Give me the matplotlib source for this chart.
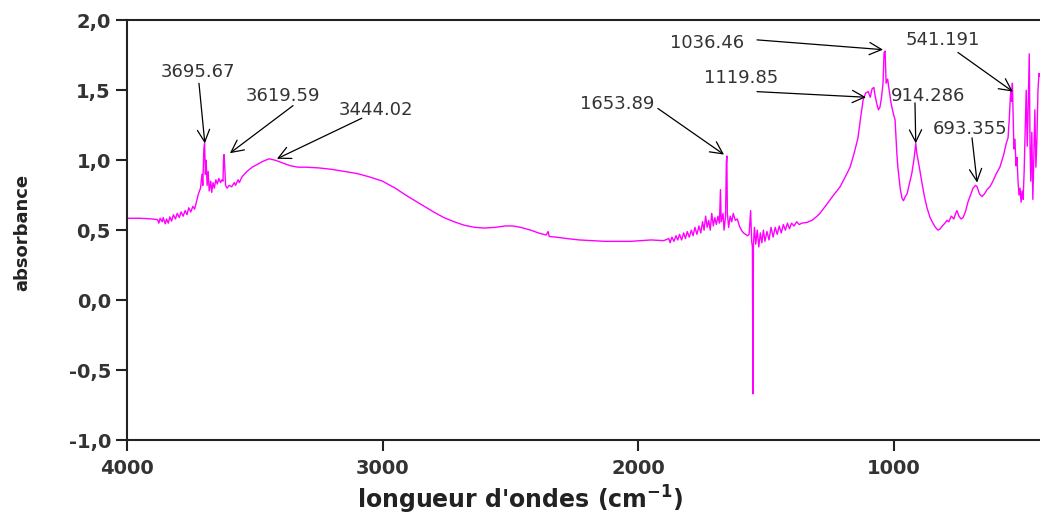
import numpy as np
import matplotlib
matplotlib.use('Agg')
import matplotlib.pyplot as plt
from matplotlib.ticker import FuncFormatter

# IR spectrum (wavenumber in cm-1, absorbance)
wavenumber = [4000, 3950, 3900, 3880, 3875, 3870, 3862, 3858, 3850, 3845, 3838, 3832,
              3825, 3818, 3810, 3803, 3795, 3788, 3780, 3772, 3765, 3758, 3750, 3742,
              3735, 3728, 3720, 3712, 3706, 3703, 3699, 3696, 3693, 3690, 3686, 3682,
              3678, 3672, 3668, 3663, 3658, 3652, 3646, 3640, 3634, 3628, 3624, 3622,
              3620, 3617, 3614, 3608, 3600, 3590, 3580, 3575, 3565, 3560, 3550, 3530,
              3510, 3490, 3470, 3444, 3420, 3390, 3360, 3330, 3300, 3250, 3200, 3150,
              3100, 3050, 3000, 2950, 2900, 2850, 2800, 2760, 2720, 2680, 2640, 2600,
              2560, 2520, 2490, 2460, 2420, 2390, 2360, 2352, 2348, 2320, 2280, 2230,
              2180, 2130, 2080, 2030, 1990, 1950, 1900, 1880, 1875, 1868, 1860, 1852,
              1845, 1838, 1830, 1822, 1815, 1808, 1800, 1792, 1785, 1778, 1770, 1762,
              1755, 1748, 1742, 1736, 1730, 1724, 1718, 1712, 1706, 1700, 1694, 1688,
              1682, 1678, 1675, 1668, 1664, 1658, 1655, 1653, 1651, 1646, 1640, 1634,
              1628, 1620, 1612, 1604, 1596, 1588, 1580, 1572, 1566, 1560, 1556, 1553,
              1551, 1549, 1545, 1540, 1534, 1528, 1522, 1516, 1510, 1504, 1496, 1488,
              1480, 1472, 1464, 1456, 1448, 1440, 1432, 1424, 1416, 1408, 1400, 1390,
              1380, 1370, 1360, 1340, 1320, 1300, 1289, 1260, 1240, 1210, 1190, 1171,
              1155, 1140, 1130, 1120, 1110, 1100, 1092, 1085, 1078, 1073, 1066, 1060,
              1054, 1048, 1042, 1038, 1034, 1030, 1024, 1018, 1010, 1000, 995, 988,
              984, 975, 968, 962, 955, 948, 938, 929, 920, 914, 910, 900,
              890, 880, 870, 858, 847, 837, 827, 818, 810, 800, 792, 785,
              775, 765, 758, 753, 745, 737, 729, 720, 710, 702, 690, 680,
              674, 665, 655, 645, 635, 624, 612, 600, 585, 570, 560, 553,
              548, 544, 541, 539, 536, 533, 530, 526, 522, 518, 514, 510,
              506, 502, 498, 494, 490, 486, 482, 478, 474, 470, 467, 464,
              460, 456, 452, 448, 444, 440, 436, 432, 428]
absorbance = [0.585, 0.585, 0.58, 0.575, 0.55, 0.585, 0.56, 0.59, 0.545, 0.58, 0.55, 0.595,
              0.565, 0.61, 0.58, 0.62, 0.59, 0.63, 0.60, 0.64, 0.61, 0.66, 0.63, 0.67,
              0.65, 0.70, 0.76, 0.80, 0.90, 0.82, 1.08, 1.12, 0.90, 1.00, 0.82, 0.92,
              0.78, 0.85, 0.77, 0.84, 0.80, 0.86, 0.83, 0.87, 0.84, 0.86, 0.85, 1.00,
              1.04, 0.95, 0.82, 0.80, 0.82, 0.81, 0.84, 0.82, 0.86, 0.84, 0.88, 0.92,
              0.95, 0.97, 0.99, 1.01, 1.00, 0.98, 0.96, 0.95, 0.95, 0.945, 0.935, 0.92,
              0.905, 0.88, 0.85, 0.80, 0.74, 0.685, 0.63, 0.59, 0.56, 0.535, 0.52, 0.515,
              0.52, 0.53, 0.53, 0.52, 0.50, 0.48, 0.465, 0.49, 0.455, 0.45, 0.44, 0.43,
              0.425, 0.42, 0.42, 0.42, 0.425, 0.43, 0.425, 0.44, 0.41, 0.45, 0.42, 0.46,
              0.43, 0.47, 0.43, 0.48, 0.44, 0.49, 0.45, 0.50, 0.46, 0.52, 0.47, 0.53,
              0.48, 0.56, 0.50, 0.60, 0.52, 0.57, 0.50, 0.62, 0.53, 0.59, 0.54, 0.60,
              0.55, 0.79, 0.56, 0.62, 0.50, 0.60, 0.98, 1.03, 0.62, 0.52, 0.60, 0.56,
              0.62, 0.57, 0.58, 0.53, 0.50, 0.48, 0.47, 0.46, 0.47, 0.64, 0.42, 0.38,
              -0.67, 0.40, 0.52, 0.40, 0.50, 0.38, 0.48, 0.41, 0.50, 0.42, 0.49, 0.43,
              0.52, 0.45, 0.52, 0.47, 0.53, 0.48, 0.54, 0.50, 0.55, 0.51, 0.55, 0.53,
              0.56, 0.54, 0.55, 0.555, 0.57, 0.60, 0.62, 0.69, 0.74, 0.81, 0.88, 0.95,
              1.05, 1.16, 1.30, 1.43, 1.48, 1.49, 1.45, 1.51, 1.52, 1.46, 1.40, 1.36,
              1.38, 1.45, 1.55, 1.77, 1.78, 1.55, 1.58, 1.50, 1.40, 1.32, 1.29, 1.05,
              0.95, 0.80, 0.73, 0.71, 0.74, 0.76, 0.84, 0.91, 1.02, 1.12, 1.05, 0.95,
              0.84, 0.74, 0.66, 0.59, 0.55, 0.52, 0.50, 0.51, 0.53, 0.55, 0.57, 0.56,
              0.60, 0.58, 0.62, 0.64, 0.60, 0.58, 0.59, 0.63, 0.70, 0.74, 0.80, 0.82,
              0.81, 0.76, 0.74, 0.76, 0.79, 0.81, 0.85, 0.90, 0.95, 1.04, 1.12, 1.16,
              1.30, 1.45, 1.50, 1.42, 1.55, 1.30, 1.08, 1.15, 0.96, 1.02, 0.85, 0.75,
              0.80, 0.70, 0.78, 0.72, 0.92, 1.20, 1.50, 1.10, 1.40, 1.76, 1.10, 0.85,
              1.20, 0.72, 1.05, 1.36, 0.95, 1.15, 1.50, 1.62, 1.60]

# labelled peaks: label, peak tip (x, y), arrow start (x, y), label centre (x, y)
peak_labels = ['3695.67', '3619.59', '3444.02', '1653.89', '1119.85',
               '1036.46', '914.286', '693.355', '541.191']
peak_tip = [(3695, 1.12), (3597, 1.05), (3413, 1.01), (1664, 1.04), (1109, 1.45),
            (1042, 1.79), (914, 1.12), (674, 0.84), (534, 1.49)]
arrow_start = [(3718, 1.55), (3350, 1.39), (3081, 1.30), (1923, 1.37), (1535, 1.49),
               (1535, 1.86), (917, 1.41), (694, 1.16), (749, 1.77)]
label_pos = [(3722, 1.63), (3390, 1.46), (3026, 1.36), (2083, 1.40), (1598, 1.59),
             (1731, 1.84), (866, 1.46), (702, 1.22), (808, 1.86)]

fig = plt.figure(figsize=(10.4, 5.15), dpi=100)
ax = fig.add_axes([0.122, 0.1456, 0.878, 0.815])

ax.plot(wavenumber, absorbance, color='#ff00ff', linewidth=1.0)

for lab, tip, start, pos in zip(peak_labels, peak_tip, arrow_start, label_pos):
    ax.annotate('', xy=tip, xytext=start,
                arrowprops=dict(arrowstyle='->', color='black', lw=0.9,
                                mutation_scale=22, shrinkA=0, shrinkB=0))
    ax.text(pos[0], pos[1], lab, ha='center', va='center', fontsize=13,
            color='#333333')

ax.set_xlim(4000, 428)
ax.set_ylim(-1.0, 2.0)
ax.set_xticks([4000, 3000, 2000, 1000])
ax.set_yticks([-1.0, -0.5, 0.0, 0.5, 1.0, 1.5, 2.0])
ax.yaxis.set_major_formatter(FuncFormatter(lambda v, p: f'{v:.1f}'.replace('.', ',')))

ax.spines['right'].set_visible(False)
for s in ['left', 'bottom', 'top']:
    ax.spines[s].set_linewidth(1.5)
    ax.spines[s].set_color('#222222')
ax.tick_params(direction='out', length=8, width=1.5, color='#222222',
               labelsize=14, labelcolor='#333333')
for t in ax.get_xticklabels() + ax.get_yticklabels():
    t.set_fontweight('bold')
ax.tick_params(axis='x', pad=6)

fig.text(0.5, 0.03, "longueur d'ondes (cm$^{\\mathbf{-1}}$)", ha='center', va='center',
         fontsize=17, fontweight='bold', color='#222222')
fig.text(0.021, 0.548, 'absorbance', rotation=90, ha='center', va='center',
         fontsize=13, fontweight='bold', color='#222222')

fig.savefig('out.png', dpi=100)
